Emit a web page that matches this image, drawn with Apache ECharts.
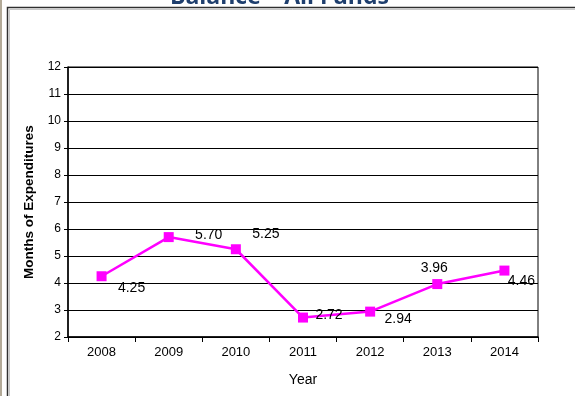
<!DOCTYPE html>
<html><head><meta charset="utf-8">
<script src="https://cdn.jsdelivr.net/npm/echarts@6/dist/echarts.min.js"></script>
<style>html,body{margin:0;padding:0;background:#fff}#c{width:575px;height:396px}</style>
</head><body><div id="c"></div>
<script>
const title = 'Balance \u2013 All Funds';
const years = ['2008','2009','2010','2011','2012','2013','2014'];
const months = [4.25, 5.70, 5.25, 2.72, 2.94, 3.96, 4.46];
const labelTexts = ['4.25','5.70','5.25','2.72','2.94','3.96','4.46'];
const yName = 'Months of Expenditures';
const xName = 'Year';
const labelOffsets = [[30,12],[40,-2],[30,-15],[26,-2],[28,8],[-3,-16],[17,11]];

const chart = echarts.init(document.getElementById('c'), null, {renderer:'canvas'});
const font = 'Arial, "Liberation Sans", sans-serif';
chart.setOption({
  animation:false,
  backgroundColor:'#fff',
  graphic:[
    {type:'rect', shape:{x:0,y:0,width:2,height:396}, style:{fill:'#b3aa98'}, silent:true},
    {type:'rect', shape:{x:7.5,y:7.5,width:600,height:400}, style:{fill:'none', stroke:'#303030', lineWidth:1.5}, silent:true},
    {type:'rect', shape:{x:9.5,y:9.5,width:600,height:400}, style:{fill:'none', stroke:'#c8c8c8', lineWidth:1}, silent:true},
    {type:'text', left:170, top:-14, style:{text:title, font:'bold 23px "Open Sans", Arial, sans-serif', fill:'#1f3f6e'}, silent:true}
  ],
  grid:{left:68, right:37, top:67, bottom:59, show:true, borderColor:'#000', borderWidth:1},
  xAxis:{
    type:'category', data:years, boundaryGap:true,
    name:xName, nameLocation:'middle', nameGap:36,
    nameTextStyle:{fontFamily:font, fontSize:14, color:'#000'},
    axisLine:{lineStyle:{color:'#000', width:1.5}},
    axisTick:{show:true, alignWithLabel:false, length:5, inside:false, lineStyle:{color:'#000'}},
    axisLabel:{fontFamily:font, fontSize:13, color:'#000', margin:9},
    splitLine:{show:false}
  },
  yAxis:{
    type:'value', min:2, max:12, interval:1,
    name:yName, nameLocation:'middle', nameGap:32, nameRotate:90,
    nameTextStyle:{fontFamily:font, fontSize:13.5, fontWeight:'bold', color:'#000'},
    axisLine:{show:true, lineStyle:{color:'#000', width:1.5}},
    axisTick:{show:true, length:4, lineStyle:{color:'#000'}},
    axisLabel:{fontFamily:font, fontSize:12, color:'#000', margin:7},
    splitLine:{show:true, lineStyle:{color:'#000', width:1}}
  },
  series:[{
    type:'line', data:months,
    symbol:'rect', symbolSize:10,
    lineStyle:{color:'#ff00ff', width:2.5},
    itemStyle:{color:'#ff00ff'},
    label:{show:true, position:'inside', fontFamily:font, fontSize:14, color:'#000',
      formatter:(p)=>labelTexts[p.dataIndex]},
    labelLayout:(p)=>({dx:labelOffsets[p.dataIndex][0], dy:labelOffsets[p.dataIndex][1], hideOverlap:false})
  }]
});
</script></body></html>
